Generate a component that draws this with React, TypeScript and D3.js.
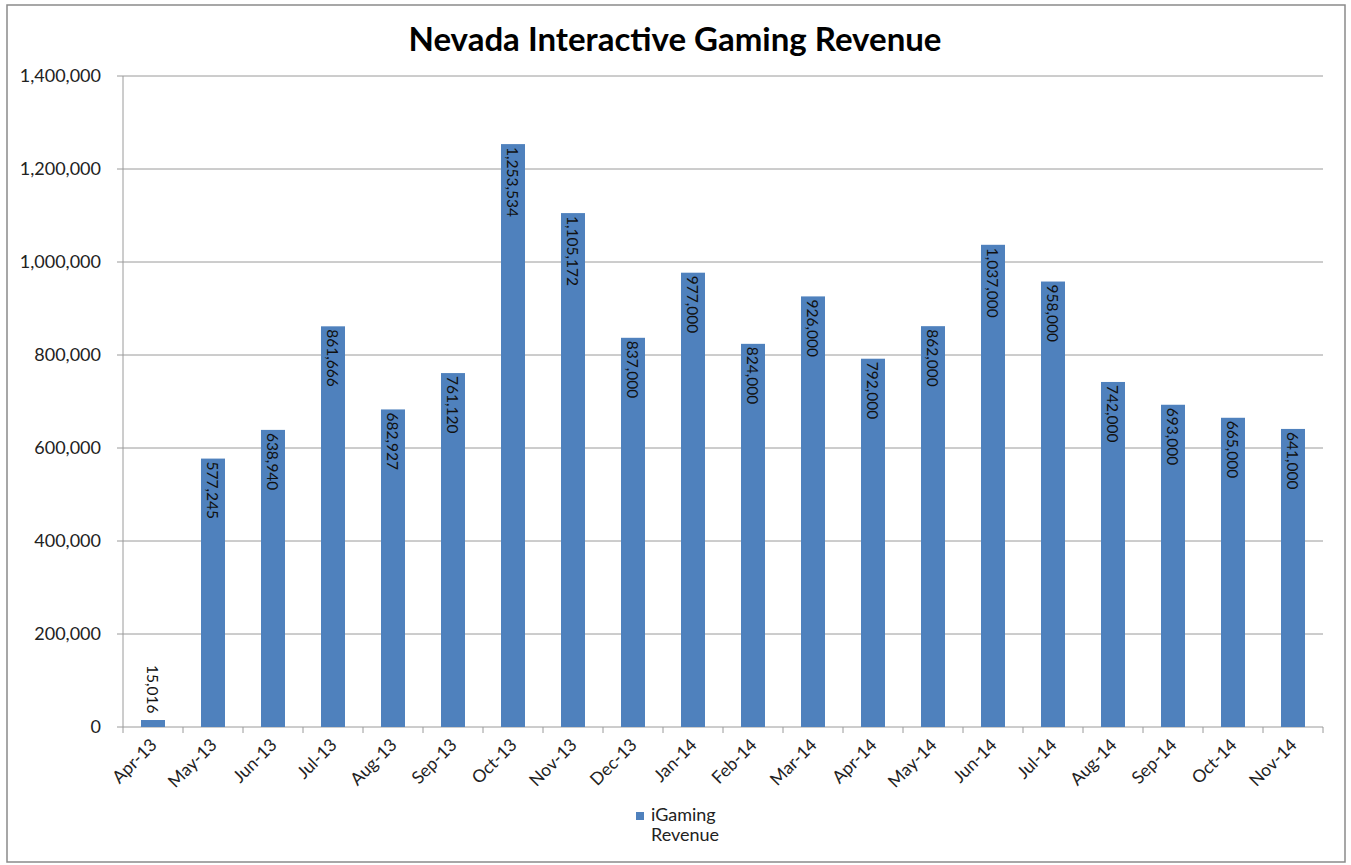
import React from "react";
import * as d3 from "d3";

const categories = ["Apr-13","May-13","Jun-13","Jul-13","Aug-13","Sep-13","Oct-13","Nov-13","Dec-13","Jan-14","Feb-14","Mar-14","Apr-14","May-14","Jun-14","Jul-14","Aug-14","Sep-14","Oct-14","Nov-14"];
const revenue = [15016,577245,638940,861666,682927,761120,1253534,1105172,837000,977000,824000,926000,792000,862000,1037000,958000,742000,693000,665000,641000];
const yTicks = [0,200000,400000,600000,800000,1000000,1200000,1400000];
const seriesName = ["iGaming", "Revenue"];
const title = "Nevada Interactive Gaming Revenue";

const W = 1351, H = 865;
const M = { left: 123, right: 1323, top: 76, bottom: 727 };
const FONT = "Lato, 'Open Sans', sans-serif";
const BAR = "#4F81BD";

export default function App() {
  const x = d3.scaleBand<string>().domain(categories).range([M.left, M.right]).paddingInner(0.6).paddingOuter(0.3);
  const xb = d3.scaleBand<string>().domain(categories).range([M.left, M.right]);
  const y = d3.scaleLinear().domain([0, 1400000]).range([M.bottom, M.top]);
  const fmt = d3.format(",");
  return (
    <svg width={W} height={H} style={{ position: "absolute", left: 0, top: 0, background: "#fff" }} fontFamily={FONT}>
      <rect x={7} y={5} width={1338} height={857} fill="#fff" stroke="#8a8a8a" strokeWidth={1.5} />
      <text x={675} y={51} textAnchor="middle" fontSize={33} fontWeight="bold" fill="#000">{title}</text>
      {yTicks.map(t => (
        <g key={t}>
          {t > 0 && <line x1={M.left} x2={M.right} y1={y(t)} y2={y(t)} stroke="#9a9a9a" strokeWidth={1} />}
          <line x1={M.left - 6} x2={M.left} y1={y(t)} y2={y(t)} stroke="#9a9a9a" strokeWidth={1} />
          <text x={101} y={y(t)} dy="0.35em" textAnchor="end" fontSize={18} fill="#222">{fmt(t)}</text>
        </g>
      ))}
      <line x1={M.left} x2={M.left} y1={M.top} y2={M.bottom} stroke="#9a9a9a" />
      <line x1={M.left} x2={M.right} y1={M.bottom} y2={M.bottom} stroke="#9a9a9a" />
      {categories.map((c) => (
        <line key={"t" + c} x1={xb(c)!} x2={xb(c)!} y1={M.bottom} y2={M.bottom + 6} stroke="#9a9a9a" />
      ))}
      <line x1={M.right} x2={M.right} y1={M.bottom} y2={M.bottom + 6} stroke="#9a9a9a" />
      {categories.map((c, i) => {
        const v = revenue[i];
        const cx = x(c)! + x.bandwidth() / 2;
        const top = y(v);
        const inside = v > 100000;
        return (
          <g key={c}>
            <rect x={x(c)!} y={top} width={x.bandwidth()} height={M.bottom - top} fill={BAR} />
            <text
              transform={`translate(${cx},${inside ? top + 3 : top - 55}) rotate(90)`}
              dominantBaseline="central"
              fontSize={15.5}
              fill="#111"
            >{fmt(v)}</text>
            <text
              transform={`translate(${cx + 5},${M.bottom + 19}) rotate(-45)`}
              textAnchor="end"
              fontSize={17.5}
              fill="#222"
            >{c}</text>
          </g>
        );
      })}
      <rect x={636} y={812} width={8} height={8} fill={BAR} />
      <text x={651} y={821} fontSize={18} fill="#222">{seriesName[0]}</text>
      <text x={651} y={841} fontSize={18} fill="#222">{seriesName[1]}</text>
    </svg>
  );
}
